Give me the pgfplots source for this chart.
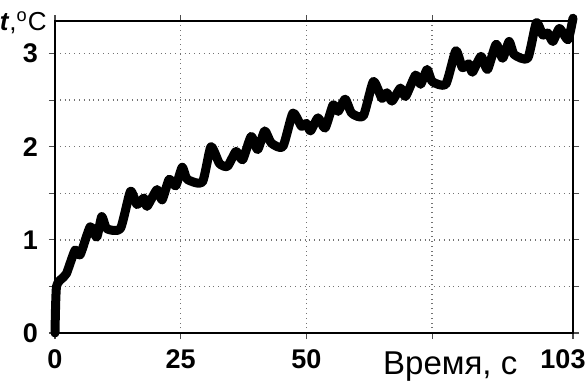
\documentclass[border=0pt]{standalone}
\usepackage{pgfplots}
\pgfplotsset{compat=1.18}
\usepackage{fontspec}
\setmainfont{Liberation Sans}
\begin{document}
\begin{tikzpicture}
\begin{axis}[
  name=ax,
  scale only axis,
  width=259pt, height=156pt,
  xmin=0, xmax=103, ymin=0, ymax=3.35,
  clip=false,
  axis line style={line width=1.1pt},
  xtick={0,25,50,75,103},
  xticklabels={0,25,50,,\hspace*{-10pt}103},
  ytick={0,0.5,1,1.5,2,2.5,3},
  yticklabels={0,,1,,2,,3},
  tick align=outside,
  major tick length=3pt,
  tick style={line width=0.6pt, black!70},
  grid=major,
  grid style={dotted, line width=0.7pt, black!55},
  /pgf/number format/assume math mode=true,
  ticklabel style={font=\bfseries\fontsize{13.5}{14}\selectfont},
  xticklabel style={yshift=-2pt},
  yticklabel style={xshift=-2pt},
  xlabel={Время, с},
  xlabel style={at={(rel axis cs:0.763,0)}, anchor=north, yshift=-6pt, font=\fontsize{16.5}{17}\selectfont},
]
\addplot[black, line width=4.5pt, line join=round, line cap=round, smooth, tension=0.35] coordinates {
(0,0) (0.3,0.5) (1.7,0.6) (2.3,0.64) (4,0.89) (5,0.84) (7,1.14) (8.3,1.03) (9.3,1.25) (10.3,1.12) (13,1.12) (15,1.52) (16.3,1.38) (17.7,1.45) (18.3,1.36) (20.3,1.54) (21.3,1.43) (22.7,1.65) (24,1.58) (25.3,1.78) (26.3,1.65) (29.3,1.62) (31,2.0) (32.7,1.82) (34.3,1.79) (36,1.95) (37.3,1.86) (39,2.11) (40.3,1.97) (41.7,2.17) (43,2.04) (45.3,2.0) (47.3,2.36) (49,2.22) (50,2.25) (50.8,2.17) (52.3,2.31) (53.7,2.2) (55.3,2.45) (56.3,2.38) (57.7,2.51) (59,2.36) (61.3,2.33) (63.3,2.70) (65,2.52) (66,2.58) (67,2.49) (68.7,2.63) (69.7,2.54) (71.7,2.77) (72.7,2.67) (74,2.83) (75,2.70) (77.7,2.67) (79.7,3.03) (81,2.85) (82.3,2.89) (83,2.8) (84.7,2.97) (86,2.83) (87.7,3.1) (89,2.95) (90.3,3.13) (91.3,2.99) (94,2.95) (95.7,3.33) (97,3.2) (98,3.22) (99,3.13) (100.3,3.27) (102,3.15) (103,3.38)
};
\node[anchor=east, inner sep=0pt, font=\fontsize{13}{14}\selectfont] at ([xshift=-4pt,yshift=-1pt]rel axis cs:0,1) {\textbf{\textit{t}},\textsuperscript{o}C};
\end{axis}
\pgfresetboundingbox
\path ([shift={(-27.5pt,-27pt)}]ax.south west) rectangle ([shift={(7.5pt,10.5pt)}]ax.north east);
\end{tikzpicture}
\end{document}
